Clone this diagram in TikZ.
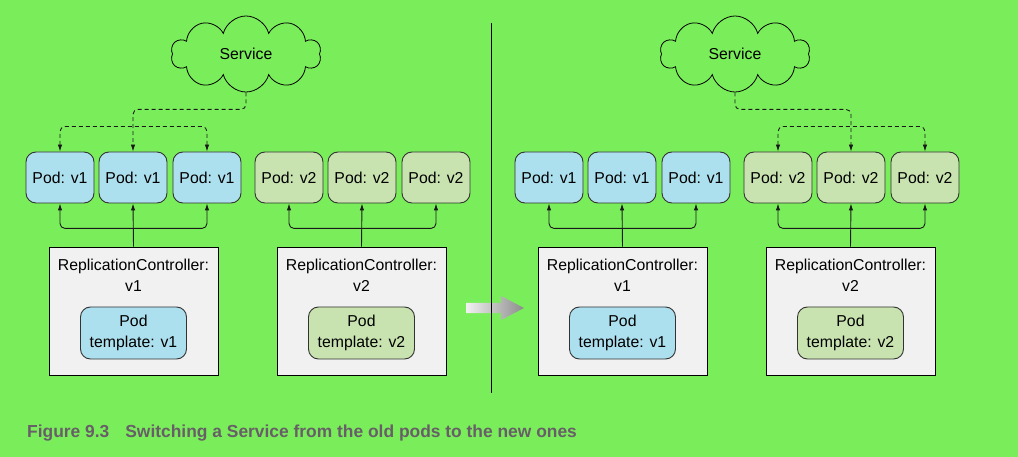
\documentclass[tikz,border=0pt]{standalone}
\usepackage{fontspec}
\setmainfont{Liberation Sans}
\usetikzlibrary{arrows.meta,positioning,shapes.symbols}
\definecolor{bggreen}{RGB}{122,238,90}
\definecolor{podblue}{RGB}{173,224,238}
\definecolor{podgreen}{RGB}{200,227,176}
\definecolor{rcgray}{RGB}{241,241,241}
\definecolor{capgray}{RGB}{104,94,104}
\tikzset{
  pod/.style={draw=black!80,line width=0.9pt,rounded corners=10pt,minimum width=68pt,
    minimum height=51pt,inner sep=0pt},
  rcbox/.style={draw,line width=0.8pt,fill=rcgray,minimum width=169pt,minimum height=128pt,
    inner sep=0pt},
  tmpl/.style={pod,minimum width=106pt,minimum height=52pt,align=center},
  conn/.style={line width=0.9pt,black!90,rounded corners=5pt},
  link/.style={conn,dash pattern=on 4pt off 3pt},
}

\begin{document}
\begin{tikzpicture}[x=1pt,y=-1pt,>={Latex[length=7pt,width=4.5pt]},
  font=\fontsize{15.8}{21}\selectfont]

\useasboundingbox[fill=bggreen] (0,0) rectangle (1018,457);

% grey arrow between the two states, then the divider
\shade[left color=rcgray,right color=black!45] (466,303) -- (501,303) -- (501,296)
  -- (524,308) -- (501,320) -- (501,313) -- (466,313) -- cycle;
\draw[line width=0.8pt] (491.5,23) -- (491.5,393);

% a = before, b = after (\on = pods the Service points to)
\foreach \s/\dx/\on in {a/0/1,b/489/2} {
\begin{scope}[xshift=\dx]
  \node[cloud,draw,line width=0.8pt,cloud puffs=10,aspect=2,minimum width=150pt,
        minimum height=76pt,inner sep=0pt] (\s-svc) at (246,54) {Service};
  \foreach \i/\x in {1/60,2/133,3/207} {
    \node[pod,fill=podblue] (\s-v1-\i) at (\x,177.5) {Pod: v1};
    \node[pod,fill=podgreen] (\s-v2-\i) at (\x+229,177.5) {Pod: v2};
  }
  \foreach \v/\x/\c in {1/133.5/podblue,2/361.5/podgreen} {
    \node[rcbox] (\s-rc\v) at (\x,311) {};
    \node[align=center,inner sep=0pt,below=12pt of \s-rc\v.north] (\s-rc\v-txt)
      {ReplicationController:\\v\v};
    \node[tmpl,fill=\c] (\s-tp\v) at (\x,333) {Pod\\template: v\v};
    \draw[conn,->] (\s-rc\v.north) -- (\s-v\v-2.south);
    \draw[conn,<->] (\s-v\v-1.south) -- ++(0,25) -| (\s-v\v-3.south);
  }
  \draw[link,->] (\s-svc.south) -- ++(0,17) -| (\s-v\on-2.north);
  \draw[link,<->] (\s-v\on-1.north) -- ++(0,-25) -| (\s-v\on-3.north);
\end{scope}
}

\node[anchor=base west,inner sep=0pt,text=capgray,
      font=\bfseries\fontsize{17.4}{21}\selectfont] (caption) at (27,437)
  {Figure 9.3\hspace{16pt}Switching a Service from the old pods to the new ones};
\end{tikzpicture}
\end{document}
